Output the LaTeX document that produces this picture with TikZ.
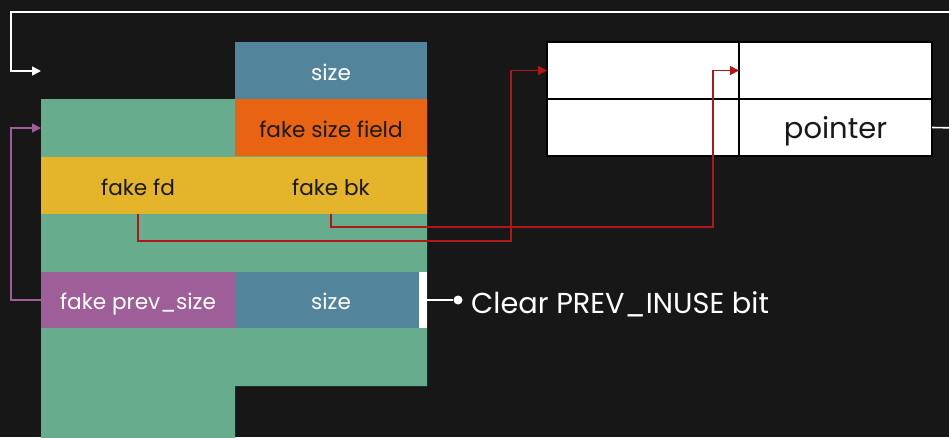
\documentclass[tikz,border=0pt]{standalone}
\usepackage{fontspec}
\setmainfont{Poppins}
\usetikzlibrary{arrows.meta}
\definecolor{bg}{RGB}{23,23,23}
\definecolor{cblue}{RGB}{82,132,155}
\definecolor{cgreen}{RGB}{104,172,142}
\definecolor{corange}{RGB}{232,100,19}
\definecolor{cyellow}{RGB}{228,180,42}
\definecolor{cpurple}{RGB}{158,94,152}
\definecolor{cred}{RGB}{176,24,24}
\definecolor{ctext}{RGB}{25,25,25}
\tikzset{
  cell/.style={anchor=north west, inner sep=0pt, outer sep=0pt, minimum height=57pt, text height=19pt, text depth=0pt, font=\fontsize{21.6}{24}\selectfont},
  tcell/.style={anchor=north west, inner sep=0pt, outer sep=0pt, minimum height=57pt, fill=white, draw=black, line width=1.2pt, text=ctext, text height=22pt, text depth=0pt, font=\fontsize{29}{32}\selectfont},
  tip/.style={-{Triangle[length=9pt,width=9pt]}},
  redline/.style={draw=cred, line width=1.6pt, tip},
  purpleline/.style={draw=cpurple, line width=1.6pt, tip},
  whiteline/.style={draw=white, line width=1.6pt},
}
\begin{document}
\begin{tikzpicture}[x=1pt,y=-1pt]
\useasboundingbox (0,0) rectangle (949,437);
\clip (0,0) rectangle (949,437);
\fill[bg] (0,0) rectangle (949,437);
% green chunk body
\fill[cgreen] (41,99) -- (427,99) -- (427,386) -- (235,386) -- (235,440) -- (41,440) -- cycle;
\node[cell, fill=cblue, text=white, minimum width=192pt] (topsize) at (235,42) {size};
\node[cell, fill=corange, text=ctext, minimum width=192pt] (fakesize) at (235,99) {fake size field};
\node[cell, fill=cyellow, text=ctext, minimum width=194pt] (fd) at (41,157) {fake fd};
\node[cell, fill=cyellow, text=ctext, minimum width=192pt] (bk) at (235,157) {fake bk};
\node[cell, fill=cpurple, text=white, minimum width=194pt, minimum height=56pt] (prev) at (41,272) {fake prev\_size};
\node[cell, fill=cblue, text=white, minimum width=192pt, minimum height=56pt] (size2) at (235,272) {size};
\node[cell, fill=white, minimum width=8pt, minimum height=56pt, text height=0pt] (bar) at (419,272) {};
\coordinate (gin) at (41,128);
\coordinate (tin) at (41,71);
% table
\node[tcell, minimum width=192pt] (c11) at (547,42) {};
\node[tcell, minimum width=193pt] (c12) at (739,42) {};
\node[tcell, minimum width=192pt] (c21) at (547,99) {};
\node[tcell, minimum width=193pt] (c22) at (739,99) {pointer};
% connectors
\draw[redline] (fd.south) |- (511,241) |- (c11.west);
\draw[redline] (bk.south) |- (713,227) |- (c12.west);
\draw[purpleline] (prev.west) -- (11,300) |- (gin);
\draw[whiteline, tip] (c22.east) -- (960,128) -- (960,12) -- (11,12) |- (tin);
\node[circle, fill=white, inner sep=0pt, minimum size=9pt] (dot) at (458,300) {};
\draw[whiteline] (bar.east) -- (dot);
\node[anchor=west, inner sep=0pt, text=white, text height=26pt, text depth=0pt, font=\fontsize{28.8}{32}\selectfont] (clear) at (471,300) {Clear PREV\_INUSE bit};
\end{tikzpicture}
\end{document}
